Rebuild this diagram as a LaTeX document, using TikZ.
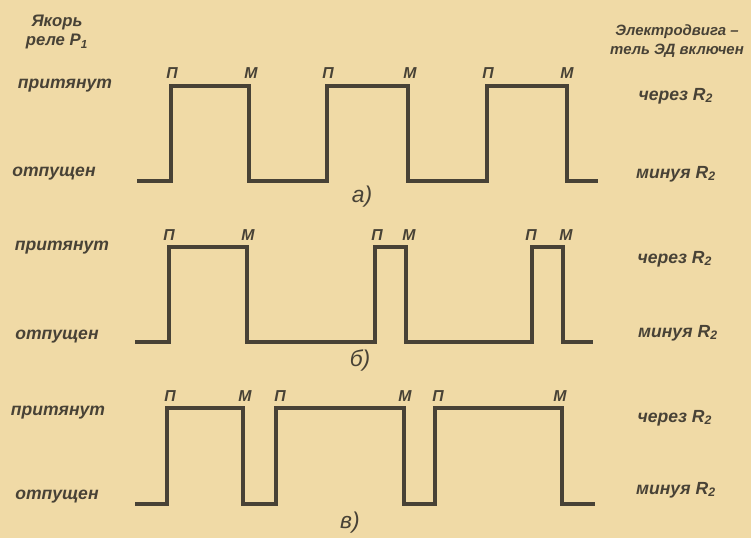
\documentclass[tikz,border=0pt]{standalone}
\usepackage{fontspec}
\setmainfont{Liberation Sans}
\usepackage{xcolor}
\usepackage{tikz}
\usetikzlibrary{positioning}

\definecolor{paper}{RGB}{240,218,166}
\definecolor{ink}{RGB}{72,66,54}

\begin{document}
\begin{tikzpicture}[
    x=0.02cm, y=-0.02cm,
    wave/.style={draw=ink,line width=1.9pt,line join=miter},
    statetext/.style={text=ink,inner sep=1pt,font=\bfseries\itshape\fontsize{10}{12}\selectfont},
    headtext/.style={text=ink,inner sep=1pt,align=center,font=\bfseries\itshape\fontsize{8.5}{10.5}\selectfont},
    pmlabel/.style={text=ink,inner sep=1pt,font=\bfseries\itshape\fontsize{9}{10}\selectfont},
    sublabel/.style={text=ink,inner sep=1pt,font=\itshape\fontsize{13}{15}\selectfont}
]
\fill[paper] (0,0) rectangle (751,538);
\useasboundingbox (0,0) rectangle (751,538);

% column heads
\node[headtext,font=\bfseries\itshape\fontsize{9.5}{11}\selectfont] (anchorhead) at (57,32) {Якорь\\реле Р\textsubscript{1}};
\node[headtext] (motorhead) at (677,41) {Электродвига --\\тель ЭД включен};

% a)
\draw[wave] (137,181) -| (171,86) -| (249,181) -| (327,86) -| (408,181) -| (487,86) -| (567,181) -- (598,181);
\node[pmlabel] (pa1) at (172,73) {П};
\node[pmlabel] (ma1) at (251,73) {М};
\node[pmlabel] (pa2) at (328,73) {П};
\node[pmlabel] (ma2) at (410,73) {М};
\node[pmlabel] (pa3) at (488,73) {П};
\node[pmlabel] (ma3) at (567,73) {М};
\node[statetext] (onA) at (65,86) {притянут};
\node[statetext] (offA) at (54,174) {отпущен};
\node[statetext] (viaA) at (676,96) {через R\textsubscript{2}};
\node[statetext] (byA) at (676,174) {минуя R\textsubscript{2}};
\node[sublabel] (capA) at (362,197) {а)};

% b)
\draw[wave] (135,342) -| (169,247) -| (247,342) -| (375,247) -| (406,342) -| (532,247) -| (563,342) -- (593,342);
\node[pmlabel] (pb1) at (169,235) {П};
\node[pmlabel] (mb1) at (248,235) {М};
\node[pmlabel] (pb2) at (377,235) {П};
\node[pmlabel] (mb2) at (409,235) {М};
\node[pmlabel] (pb3) at (531,235) {П};
\node[pmlabel] (mb3) at (566,235) {М};
\node[statetext] (onB) at (62,248) {притянут};
\node[statetext] (offB) at (57,337) {отпущен};
\node[statetext] (viaB) at (675,259) {через R\textsubscript{2}};
\node[statetext] (byB) at (678,333) {минуя R\textsubscript{2}};
\node[sublabel] (capB) at (360,360) {б)};

% c)
\draw[wave] (135,504) -| (167,408) -| (243,504) -| (276,408) -| (404,504) -| (435,408) -| (562,504) -- (595,504);
\node[pmlabel] (pc1) at (170,396) {П};
\node[pmlabel] (mc1) at (245,396) {М};
\node[pmlabel] (pc2) at (280,396) {П};
\node[pmlabel] (mc2) at (405,396) {М};
\node[pmlabel] (pc3) at (438,396) {П};
\node[pmlabel] (mc3) at (560,396) {М};
\node[statetext] (onC) at (58,413) {притянут};
\node[statetext] (offC) at (57,497) {отпущен};
\node[statetext] (viaC) at (675,418) {через R\textsubscript{2}};
\node[statetext] (byC) at (676,490) {минуя R\textsubscript{2}};
\node[sublabel] (capC) at (350,523) {в)};
\end{tikzpicture}
\end{document}
